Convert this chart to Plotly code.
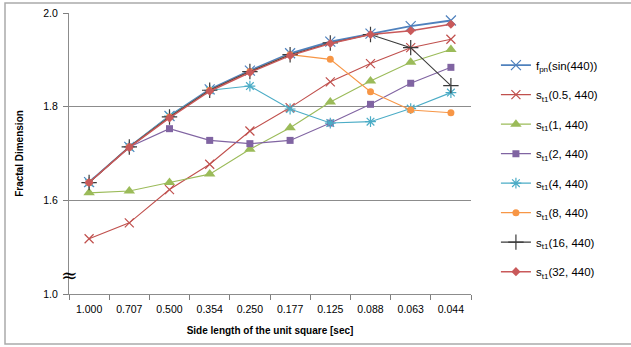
import plotly.graph_objects as go

categories = ["1.000", "0.707", "0.500", "0.354", "0.250", "0.177", "0.125", "0.088", "0.063", "0.044"]

f_pn_sin440 = [1.639, 1.714, 1.780, 1.837, 1.877, 1.914, 1.939, 1.956, 1.972, 1.984]
s_t1_05 = [1.518, 1.552, 1.623, 1.677, 1.748, 1.798, 1.853, 1.892, 1.926, 1.944]
s_t1_1 = [1.616, 1.620, 1.638, 1.656, 1.709, 1.755, 1.810, 1.855, 1.895, 1.922]
s_t1_2 = [1.638, 1.714, 1.753, 1.728, 1.721, 1.728, 1.765, 1.805, 1.850, 1.884]
s_t1_4 = [1.638, 1.714, 1.780, 1.835, 1.844, 1.795, 1.765, 1.768, 1.796, 1.830]
s_t1_8 = [1.638, 1.714, 1.778, 1.835, 1.875, 1.911, 1.901, 1.832, 1.793, 1.787]
s_t1_16 = [1.638, 1.714, 1.778, 1.835, 1.875, 1.911, 1.936, 1.954, 1.926, 1.845]
s_t1_32 = [1.638, 1.713, 1.776, 1.833, 1.873, 1.909, 1.935, 1.954, 1.962, 1.976]

# y-axis is broken: the value 1.0 is drawn at display position 1.4
y_tick_vals = [1.4, 1.6, 1.8, 2.0]
y_tick_text = ["1.0", "1.6", "1.8", "2.0"]

series = [
    ("f<sub>pn</sub>(sin(440))", f_pn_sin440, "#4F81BD", "x-thin-open", 10, 1.8),
    ("s<sub>t1</sub>(0.5, 440)", s_t1_05, "#C0504D", "x-thin-open", 9, 1.1),
    ("s<sub>t1</sub>(1, 440)", s_t1_1, "#9BBB59", "triangle-up", 10, 1.1),
    ("s<sub>t1</sub>(2, 440)", s_t1_2, "#8064A2", "square", 7, 1.1),
    ("s<sub>t1</sub>(4, 440)", s_t1_4, "#4BACC6", "asterisk-open", 9, 1.1),
    ("s<sub>t1</sub>(8, 440)", s_t1_8, "#F79646", "circle", 7, 1.1),
    ("s<sub>t1</sub>(16, 440)", s_t1_16, "#3A3A3A", "cross-thin-open", 11, 1.1),
    ("s<sub>t1</sub>(32, 440)", s_t1_32, "#C9595A", "diamond", 7, 1.5),
]

fig = go.Figure()
for i, (name, vals, color, sym, size, lw) in enumerate(series):
    open_sym = sym.endswith("open")
    fig.add_trace(go.Scatter(
        x=categories, y=vals, name=name, mode="lines+markers",
        legendgroup=f"g{i}",
        line=dict(color=color, width=lw),
        marker=dict(symbol=sym, size=size, color=color,
                    line=dict(color=color, width=1.2 if open_sym else 0)),
    ))

# invisible helper trace so the tick-mark overlay axes are drawn
fig.add_trace(go.Scatter(x=categories, y=s_t1_32, xaxis="x2", yaxis="y2",
                         mode="lines", line=dict(width=0), opacity=0,
                         showlegend=False, hoverinfo="skip"))

FONT = "Liberation Sans, Arial, Helvetica, sans-serif"

fig.update_layout(
    width=631, height=347,
    margin=dict(l=69, r=160, t=13, b=53, autoexpand=False),
    paper_bgcolor="white", plot_bgcolor="white",
    font=dict(family=FONT, size=11, color="#000000"),
    showlegend=True,
    legend=dict(x=1.062, y=0.866, xanchor="left", yanchor="top",
                font=dict(family=FONT, size=11.5, color="#000000"),
                tracegroupgap=10.5, bgcolor="rgba(0,0,0,0)"),
    xaxis=dict(
        type="category", categoryorder="array", categoryarray=categories,
        showgrid=False, showline=True, linecolor="#8C8C8C", linewidth=1,
        ticks="", ticklabelstandoff=5,
        tickfont=dict(family=FONT, size=10.5, color="#000000"),
        title=dict(text="<b>Side length of the unit square [sec]</b>",
                   font=dict(family=FONT, size=10, color="#000000"), standoff=13),
        range=[-0.5, 9.5], automargin=False,
    ),
    yaxis=dict(
        range=[1.4, 2.0], tickvals=y_tick_vals, ticktext=y_tick_text,
        showgrid=True, gridcolor="#8C8C8C", gridwidth=1,
        showline=True, linecolor="#8C8C8C", linewidth=1,
        ticks="", ticklabelstandoff=8,
        tickfont=dict(family=FONT, size=10.5, color="#000000"),
        zeroline=False, automargin=False,
        title=dict(text="<b>Fractal Dimension</b>",
                   font=dict(family=FONT, size=10, color="#000000"), standoff=17),
    ),
    xaxis2=dict(
        type="category", categoryorder="array", categoryarray=categories,
        overlaying="x", side="bottom", anchor="y2", range=[-0.5, 9.5],
        showgrid=False, showline=False, showticklabels=False, zeroline=False,
        ticks="outside", tickson="boundaries", ticklen=5, tickcolor="#7F7F7F", tickwidth=1,
        automargin=False,
    ),
    yaxis2=dict(
        overlaying="y", side="left", anchor="x2", range=[1.4, 2.0], tickvals=y_tick_vals,
        showgrid=False, showline=False, showticklabels=False, zeroline=False,
        ticks="outside", ticklen=5, tickcolor="#7F7F7F", tickwidth=1,
        automargin=False,
    ),
)

# axis break symbol
fig.add_annotation(x=-0.5, y=1.44, xref="x", yref="y", text="≈", showarrow=False,
                   font=dict(family="DejaVu Serif, serif", size=20, color="#000000"),
                   xanchor="center", yanchor="middle")

# outer chart border
fig.add_shape(type="rect", xref="paper", yref="paper",
              x0=(5 - 69) / 402, x1=(640 - 69) / 402,
              y0=(294 - 344) / 281, y1=(294 - 3) / 281,
              line=dict(color="#AAAAAA", width=1.5), fillcolor="rgba(0,0,0,0)", layer="above")

fig.write_html("out.html",
               config={"displayModeBar": False},
               post_script="document.body.style.margin='0';document.body.style.padding='0';")
